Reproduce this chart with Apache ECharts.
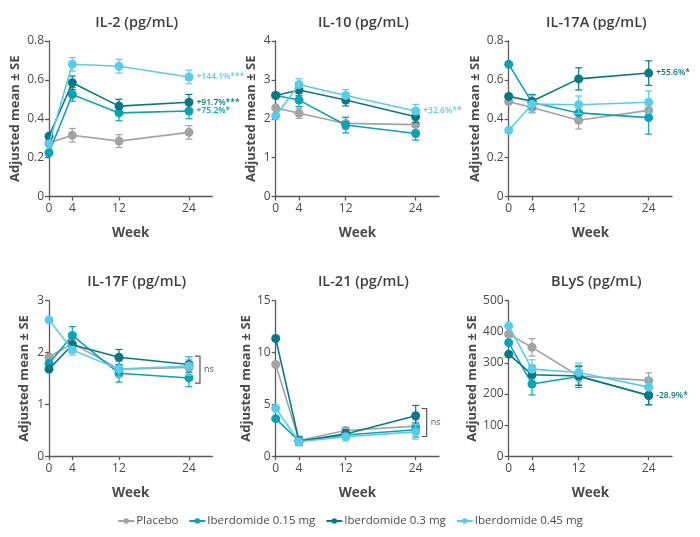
<!DOCTYPE html>
<html><head><meta charset="utf-8">
<script src="https://cdn.jsdelivr.net/npm/echarts@6/dist/echarts.min.js"></script>
<style>html,body{margin:0;padding:0;background:#fff}#c{width:700px;height:537px}</style>
</head><body><div id="c"></div>
<script>
// ---- data ----
const weeks = [0, 4, 12, 24];
const groups = ['Placebo', 'Iberdomide 0.15 mg', 'Iberdomide 0.3 mg', 'Iberdomide 0.45 mg'];
const panelTitles = ['IL-2 (pg/mL)', 'IL-10 (pg/mL)', 'IL-17A (pg/mL)', 'IL-17F (pg/mL)', 'IL-21 (pg/mL)', 'BLyS (pg/mL)'];
const yMax = [0.8, 4, 0.8, 3, 15, 500];
const yStep = [0.2, 1, 0.2, 1, 5, 100];

// means [group][week] and SE [group][week] per biomarker
const il2Mean = [[0.275, 0.315, 0.285, 0.33], [0.225, 0.525, 0.43, 0.44], [0.31, 0.585, 0.465, 0.485], [0.27, 0.68, 0.67, 0.615]];
const il2SE = [[0, 0.035, 0.033, 0.035], [0, 0.035, 0.04, 0.04], [0, 0.035, 0.035, 0.04], [0, 0.035, 0.035, 0.035]];
const il10Mean = [[2.28, 2.14, 1.88, 1.85], [2.6, 2.48, 1.84, 1.62], [2.6, 2.74, 2.48, 2.05], [2.07, 2.88, 2.6, 2.2]];
const il10SE = [[0, 0.13, 0.15, 0.15], [0, 0.17, 0.2, 0.17], [0, 0.15, 0.15, 0.15], [0, 0.15, 0.15, 0.17]];
const il17aMean = [[0.488, 0.458, 0.392, 0.443], [0.68, 0.484, 0.43, 0.406], [0.515, 0.49, 0.605, 0.635], [0.34, 0.475, 0.472, 0.485]];
const il17aSE = [[0, 0.025, 0.045, 0.045], [0, 0.04, 0.045, 0.085], [0, 0.035, 0.057, 0.063], [0, 0.045, 0.045, 0.058]];
const il17fMean = [[1.91, 2.18, 1.68, 1.71], [1.79, 2.33, 1.6, 1.51], [1.68, 2.15, 1.91, 1.77], [2.63, 2.05, 1.68, 1.74]];
const il17fSE = [[0, 0.12, 0.15, 0.15], [0, 0.17, 0.17, 0.17], [0, 0.15, 0.15, 0.15], [0, 0.1, 0.15, 0.18]];
const il21Mean = [[8.85, 1.52, 2.48, 2.9], [3.62, 1.45, 2.05, 2.55], [11.35, 1.45, 2.15, 3.9], [4.62, 1.4, 1.88, 2.35]];
const il21SE = [[0, 0.4, 0.3, 0.6], [0, 0.4, 0.4, 0.7], [0, 0.4, 0.4, 1.0], [0, 0.4, 0.4, 0.7]];
const blysMean = [[392, 350, 258, 243], [365, 232, 256, 196], [328, 262, 258, 195], [419, 280, 269, 222]];
const blysSE = [[0, 28, 30, 25], [0, 35, 35, 30], [0, 30, 30, 30], [0, 30, 30, 30]];

// annotations: [panel, group, text]
const annotations = [[0, 3, '+144.1%***'], [0, 2, '+91.7%***'], [0, 1, '+75.2%*'], [1, 3, '+32.6%**'], [2, 2, '+55.6%*'], [5, 2, '-28.9%*']];
// ns brackets: [panel, yLow, yHigh]
const nsBrackets = [[3, 1.41, 1.93], [4, 1.9, 4.6]];

// ---- chart ----
const means = [il2Mean, il10Mean, il17aMean, il17fMean, il21Mean, blysMean];
const ses = [il2SE, il10SE, il17aSE, il17fSE, il21SE, blysSE];
const colors = ['#a3a3a3', '#0ba2b4', '#0a7884', '#5ccbea'];
const FONT = '"Open Sans", "DejaVu Sans", sans-serif';
const lefts = [49, 275.7, 508.7];
const tops = [41, 300.7];
const gw = 163.3, gh = 155.5;

const grid = [], xAxis = [], yAxis = [], title = [], series = [];
for (let p = 0; p < 6; p++) {
  const L = lefts[p % 3], T = tops[Math.floor(p / 3)];
  grid.push({left: L, top: T, width: gw, height: gh});
  title.push({text: panelTitles[p], left: L + gw / 2 + 1, top: T - 31, textAlign: 'center',
    textStyle: {fontFamily: FONT, fontSize: 14.5, fontWeight: 600, color: '#3f3f3f'}});
  xAxis.push({gridIndex: p, type: 'value', min: 0, max: 28,
    name: 'Week', nameLocation: 'middle', nameGap: 30,
    nameTextStyle: {fontFamily: FONT, fontSize: 13.5, fontWeight: 700, color: '#4a4a4a'},
    axisLine: {lineStyle: {color: '#5a5a5a', width: 1.3}},
    axisTick: {show: true, length: 4, customValues: weeks, lineStyle: {color: '#5a5a5a', width: 1.3}},
    axisLabel: {customValues: weeks, fontFamily: FONT, fontSize: 12, color: '#4a4a4a', margin: 6},
    splitLine: {show: false}});
  yAxis.push({gridIndex: p, type: 'value', min: 0, max: yMax[p], interval: yStep[p],
    name: 'Adjusted mean ± SE', nameLocation: 'middle', nameRotate: 90,
    nameGap: p === 5 ? 30 : (p === 4 ? 22 : (p === 1 || p === 3 ? 18 : 27)),
    nameTextStyle: {fontFamily: FONT, fontSize: 13, fontWeight: 700, color: '#4a4a4a'},
    axisLine: {show: true, lineStyle: {color: '#5a5a5a', width: 1.3}},
    axisTick: {show: true, length: 4, lineStyle: {color: '#5a5a5a', width: 1.3}},
    axisLabel: {fontFamily: FONT, fontSize: 12, color: '#4a4a4a', margin: 5},
    splitLine: {show: false}});

  for (let g = 0; g < 4; g++) {
    const m = means[p][g], s = ses[p][g];
    const data = weeks.map((w, i) => ({value: [w, m[i]]}));
    const ann = annotations.find(a => a[0] === p && a[1] === g);
    if (ann) {
      data[3].label = {show: true, position: 'right', distance: 3, formatter: ann[2],
        color: colors[g], fontFamily: FONT, fontSize: 8.5, fontWeight: 600};
    }
    series.push({type: 'line', name: groups[g], xAxisIndex: p, yAxisIndex: p, data: data,
      symbol: 'circle', symbolSize: 9, color: colors[g], z: 3 + g,
      lineStyle: {width: 1.6, color: colors[g]}, itemStyle: {color: colors[g]},
      emphasis: {disabled: true}, animation: false});
    series.push({type: 'custom', name: groups[g], xAxisIndex: p, yAxisIndex: p, z: 2 + g,
      data: weeks.map((w, i) => [w, m[i] - s[i], m[i] + s[i]]).filter((d, i) => s[i] > 0),
      renderItem: function (params, api) {
        const lo = api.coord([api.value(0), api.value(1)]);
        const hi = api.coord([api.value(0), api.value(2)]);
        const cw = 3.5;
        const st = {stroke: colors[g], lineWidth: 1.2, fill: null};
        return {type: 'group', children: [
          {type: 'line', shape: {x1: lo[0], y1: lo[1], x2: hi[0], y2: hi[1]}, style: st},
          {type: 'line', shape: {x1: lo[0] - cw, y1: lo[1], x2: lo[0] + cw, y2: lo[1]}, style: st},
          {type: 'line', shape: {x1: hi[0] - cw, y1: hi[1], x2: hi[0] + cw, y2: hi[1]}, style: st}
        ]};
      }, animation: false, silent: true});
  }
}
nsBrackets.forEach(b => {
  series.push({type: 'custom', xAxisIndex: b[0], yAxisIndex: b[0], data: [[24, b[1], b[2]]], silent: true, animation: false,
    renderItem: function (params, api) {
      const lo = api.coord([api.value(0), api.value(1)]);
      const hi = api.coord([api.value(0), api.value(2)]);
      const x0 = lo[0] + 6, x1 = lo[0] + 11;
      return {type: 'group', children: [
        {type: 'polyline', shape: {points: [[x0, hi[1]], [x1, hi[1]], [x1, lo[1]], [x0, lo[1]]]},
          style: {stroke: '#555', lineWidth: 1.2, fill: null}},
        {type: 'text', style: {text: 'ns', x: x1 + 4, y: (lo[1] + hi[1]) / 2, textVerticalAlign: 'middle',
          fill: '#555', font: '9px ' + FONT}}
      ]};
    }});
});

const chart = echarts.init(document.getElementById('c'), null, {renderer: 'canvas'});
chart.setOption({
  animation: false,
  title: title, grid: grid, xAxis: xAxis, yAxis: yAxis, series: series,
  legend: {data: groups, bottom: 5, left: 'center', itemWidth: 16, itemHeight: 7, itemGap: 10,
    textStyle: {fontFamily: FONT, fontSize: 11.5, color: '#4a4a4a', padding: [0, 0, 0, -3]}}
});
</script></body></html>
